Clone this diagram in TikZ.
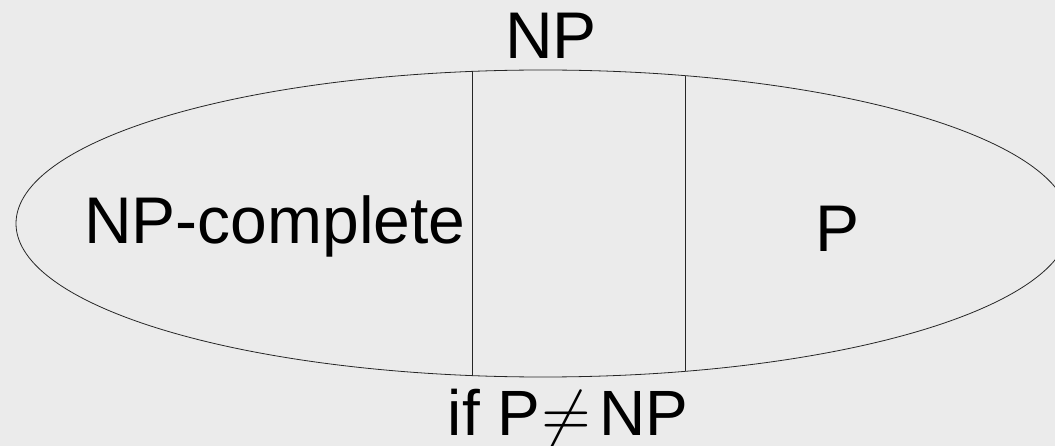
\documentclass[tikz,border=0pt]{standalone}
\usepackage{fontspec}
\setmainfont{Liberation Sans}
\definecolor{bggray}{HTML}{EBEBEB}
\newcommand{\bigneq}{\scalebox{6.4}{\fontsize{10}{12}\selectfont$\mathord{\neq}$}}

\begin{document}
\begin{tikzpicture}[x=1pt, y=-1pt,
  set label/.style={anchor=base, inner sep=0pt, font=\fontsize{66}{79}\selectfont},
  set line/.style={black!85, line width=0.8pt}]

\fill [bggray] (0,0) rectangle (1055,446);
\useasboundingbox (0,0) rectangle (1055,446);

\draw [set line] (543,223.5) ellipse [x radius=527pt, y radius=153.5pt];

% dividing lines
\coordinate (leftTop) at (472,71.4);
\coordinate (leftBot) at (472,375.6);
\coordinate (rightTop) at (685,75.7);
\coordinate (rightBot) at (685,371.3);
\draw [set line] (leftTop) -- (leftBot);
\draw [set line] (rightTop) -- (rightBot);

\node [set label] (np)     at (551, 59)  {NP};
\node [set label] (npc)    at (275, 244) {NP-complete};
\node [set label] (p)      at (838, 252) {P};
\node [set label, font=\fontsize{64}{77}\selectfont] (ifpnp) at (568, 435)
  {if P\kern1pt\bigneq\kern8pt NP};

\end{tikzpicture}
\end{document}
